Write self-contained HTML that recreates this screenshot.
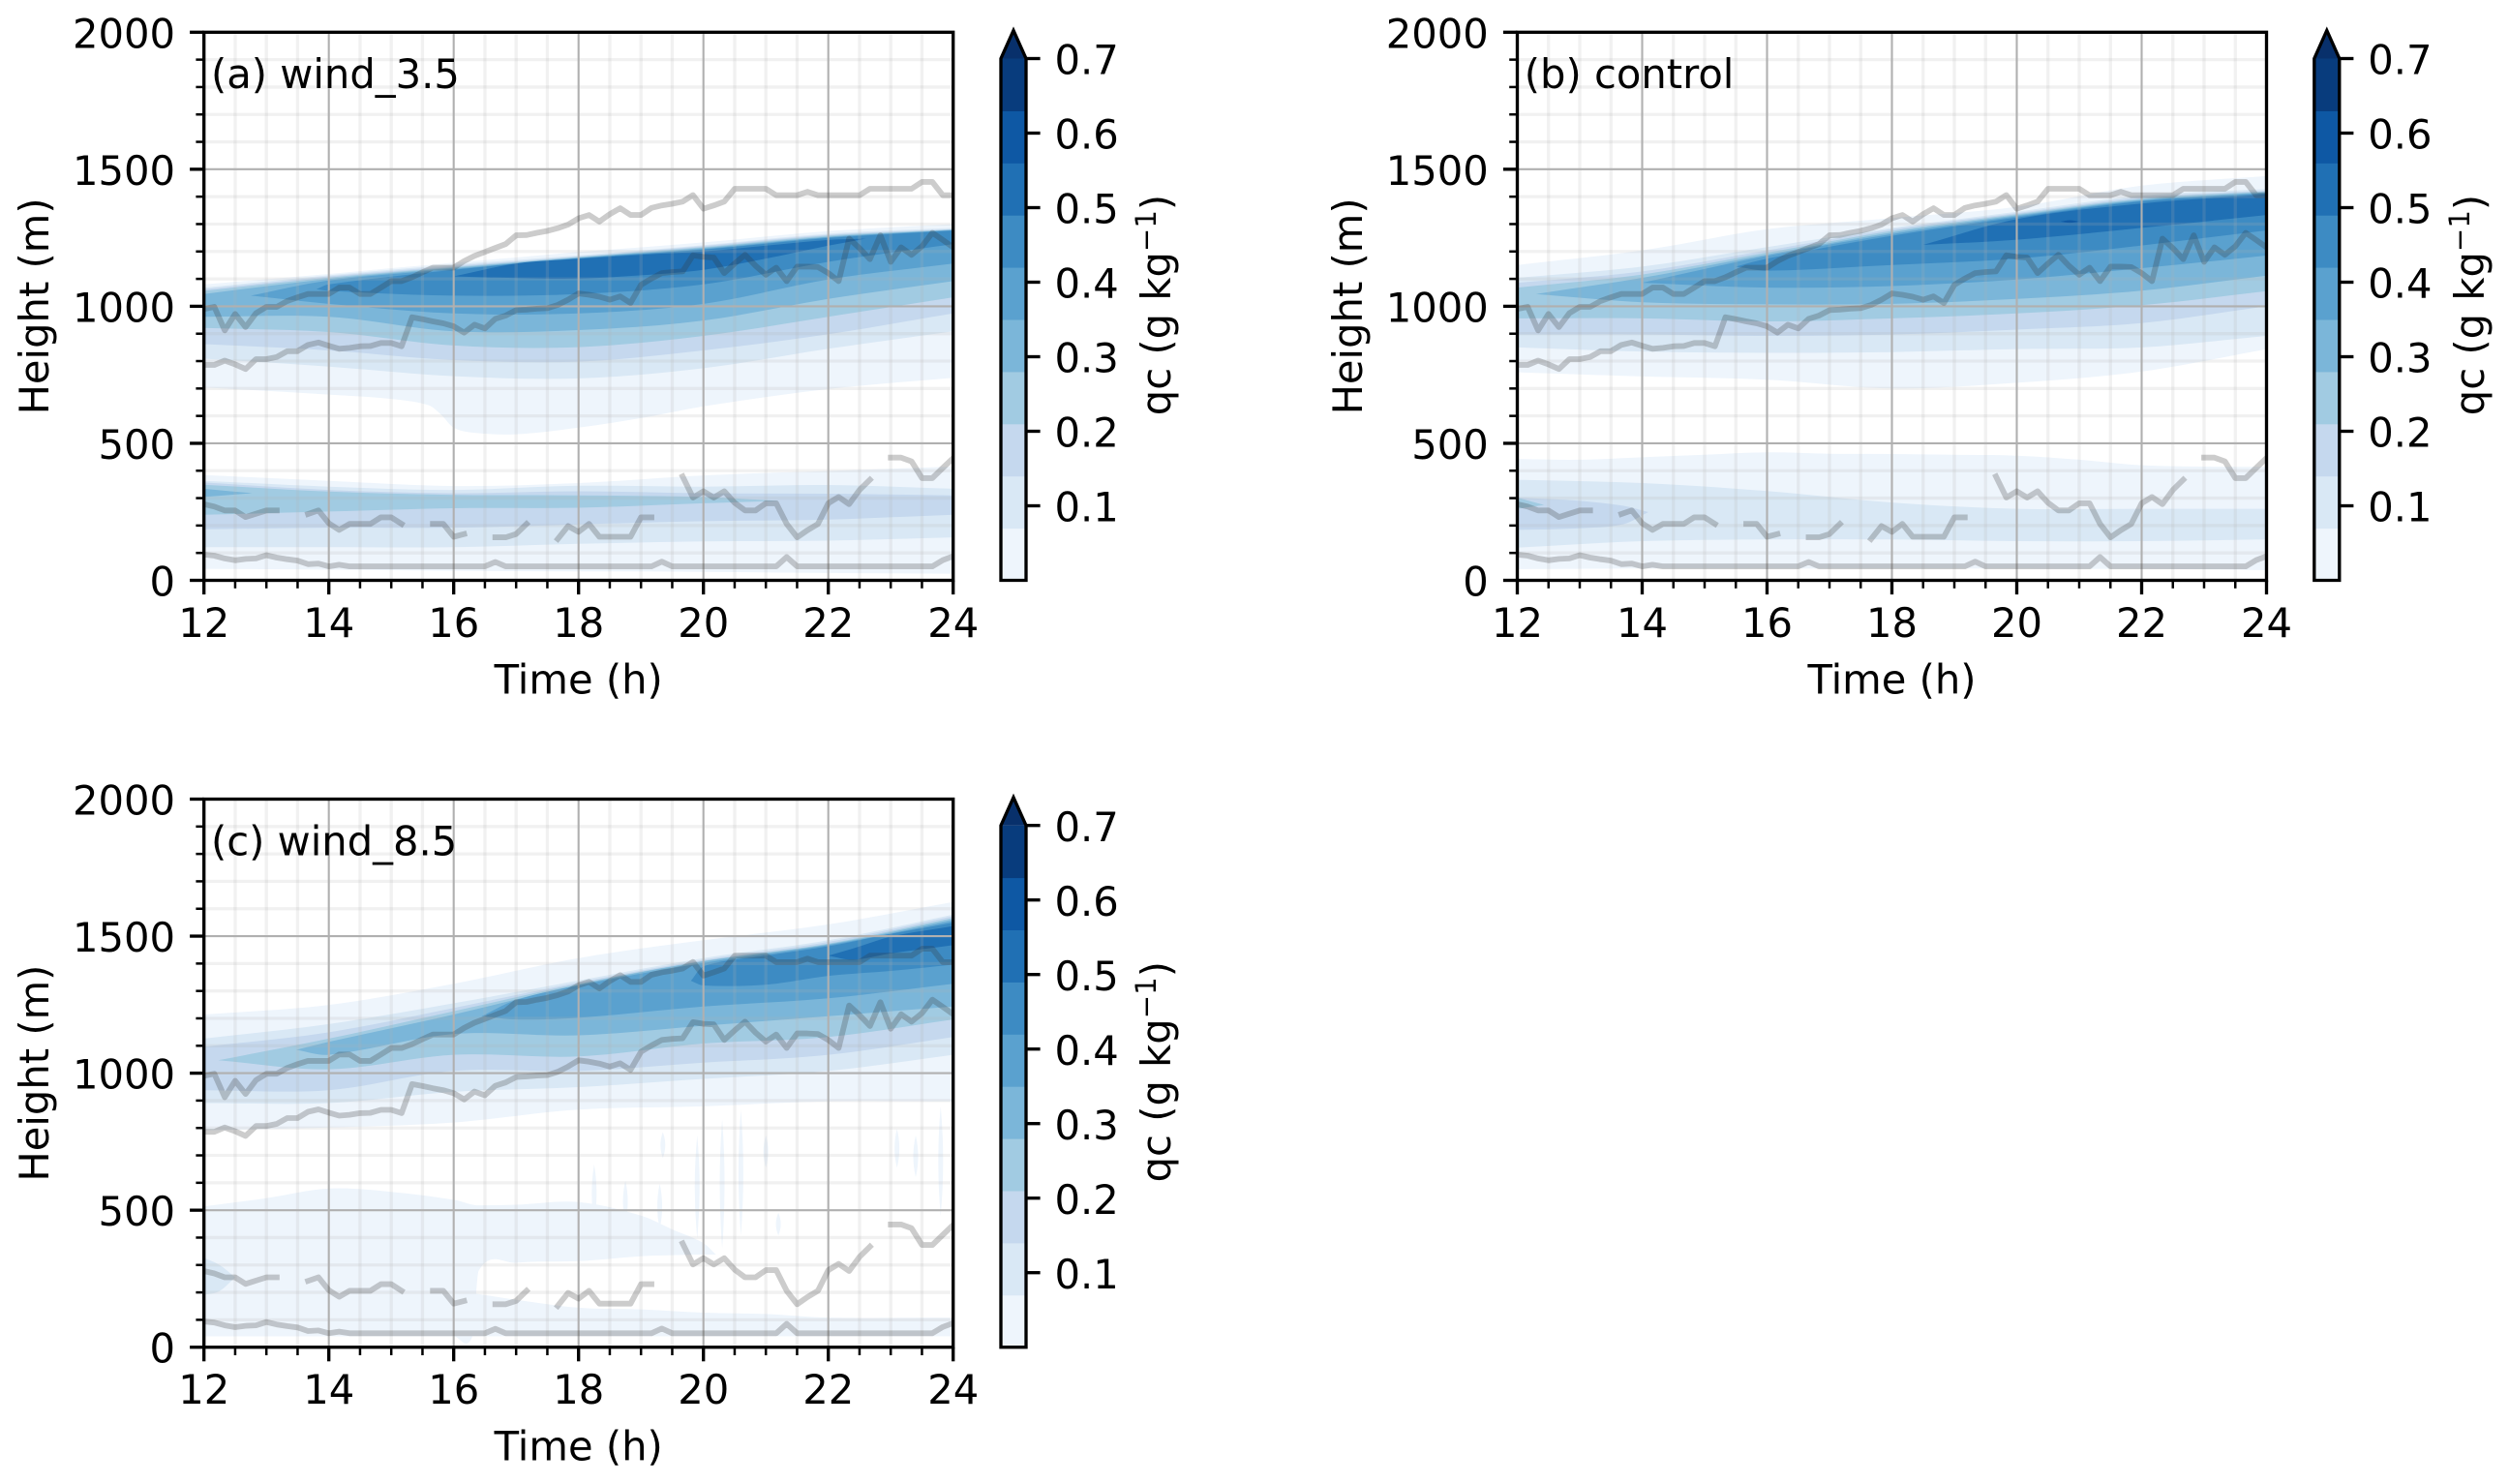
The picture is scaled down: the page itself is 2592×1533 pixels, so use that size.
<!DOCTYPE html>
<html lang="en">
<head>
<meta charset="utf-8">
<title>Cloud water time-height panels</title>
<style>
html,body{margin:0;padding:0;background:#fff;}
svg{display:block;}
text{font-family:"DejaVu Sans","Liberation Sans",sans-serif;font-size:41.67px;fill:#000;}
</style>
</head>
<body>
<svg id="figure" xmlns="http://www.w3.org/2000/svg" width="2592" height="1533" viewBox="0 0 2592 1533">
<rect width="2592" height="1533" fill="#ffffff"/>
<defs><clipPath id="plot-clip"><rect x="210.7" y="33.3" width="774" height="566.2"/></clipPath></defs>
</svg>
<script>
/* ---------- shared axis data ---------- */
const xTickHours=[12,14,16,18,20,22,24];
const xMinorHours=[12.5,13,13.5,14.5,15,15.5,16.5,17,17.5,18.5,19,19.5,20.5,21,21.5,22.5,23,23.5];
const yTickHeights=[0,500,1000,1500,2000];
const yMinorHeights=[100,200,300,400,600,700,800,900,1100,1200,1300,1400,1600,1700,1800,1900];
const colorbarTicks=[0.1,0.2,0.3,0.4,0.5,0.6,0.7];
const colorbarLevels=[0,0.07,0.14,0.21,0.28,0.35,0.42,0.49,0.56,0.63,0.70];
const evenHours=[12,14,16,18,20,22,24];
const hourlyHours=[12,13,14,15,16,17,18,19,20,21,22,23,24];

/* ---------- observed cloud boundaries, one value each 10 min from 12 h ---------- */
const obsStartHour=12;
const obsStepMinutes=10;
const obsTopUpper=[990,998,912,972,924,975,998,998,1019,1033,1045,1045,1045,1068,1068,1045,1045,1068,1092,1092,1106,1124,1141,1141,1141,1165,1184,1198,1213,1227,1259,1260,1268,1275,1285,1298,1321,1333,1309,1336,1358,1333,1333,1359,1368,1374,1382,1406,1356,1368,1382,1429,1429,1429,1429,1405,1405,1405,1418,1405,1405,1405,1405,1405,1429,1429,1429,1429,1429,1454,1454,1405,1405];
const obsBaseUpper=[786,786,802,788,771,807,807,815,836,836,859,868,856,845,848,854,855,866,866,854,960,953,945,938,927,904,933,919,954,966,986,988,991,993,1005,1024,1047,1042,1035,1024,1036,1012,1078,1101,1121,1125,1127,1186,1180,1178,1121,1156,1188,1148,1115,1141,1092,1145,1145,1143,1121,1092,1247,1212,1172,1259,1162,1215,1188,1219,1268,1242,1215];
const obsTopLower=[278,269,255,255,231,243,255,255,null,null,242,255,208,184,206,206,206,230,230,206,null,null,206,206,159,169,null,null,157,157,169,206,null,null,151,198,177,206,159,159,159,159,230,230,null,null,379,302,325,302,325,283,255,255,281,281,206,157,183,206,281,304,278,330,367,null,448,448,434,373,373,410,446];
const obsBaseLower=[94,90,80,73,78,80,92,83,77,72,59,61,51,57,51,51,51,51,51,51,51,51,51,51,51,51,51,51,67,51,51,51,51,51,51,51,51,51,51,51,51,51,51,51,68,51,51,51,51,51,51,51,51,51,51,51,85,51,51,51,51,51,51,51,51,51,51,51,51,51,51,74,88];

/* ---------- panel a contours (height in m of each qc level) ---------- */
const aL1Hours=[12,14,15,15.6,15.8,16,16.3,17,18,19,20,22,24];
const aL1Top=[1080,1118,1139,1151,1155,1159,1165,1178,1198,1215,1233,1274,1300];
const aL1Bottom=[704,678,662,639,604,557,539,533,557,592,635,698,739];
const aL2Top=[1068,1113,1152,1186,1223,1265,1286];
const aL2Bottom=[809,780,745,737,774,845,909];
const aL3Top=[1062,1109,1147,1182,1220,1261,1282];
const aL3Bottom=[862,839,804,798,839,898,974];
const aL4Top=[1056,1105,1143,1180,1216,1258,1280];
const aL4Bottom=[921,906,857,851,892,962,1033];
const aL5Top=[1045,1100,1140,1178,1213,1254,1279];
const aL5Bottom=[962,962,909,913,948,1027,1092];
const aL6Hours=[12.75,14,16,18,20,22,24];
const aL6Top=[1039,1094,1136,1176,1209,1252,1278];
const aL6Bottom=[1039,1009,974,974,1009,1098,1156];
const aL7Hours=[13.8,14,16,18,20,22,24];
const aL7Top=[1062,1080,1133,1175,1207,1249,1276];
const aL7Bottom=[1062,1056,1039,1045,1080,1162,1227];
const aL8Hours=[16,17,18,19,20,21,22,22.6];
const aL8Top=[1109,1156,1173,1188,1200,1221,1242,1247];
const aL8Bottom=[1109,1103,1101,1113,1133,1174,1221,1247];
const aLowL1Top=[384,363,344,355,383,399,415];
const aLowL1Bottom=[42,39,35,33,31,27,24];
const aLowL2Top=[363,342,330,345,342,348,334];
const aLowL2Bottom=[121,121,121,133,142,145,157];
const aLowL3Top=[357,330,318,325,318,316,310];
const aLowL3Bottom=[186,192,192,204,216,222,239];
const aLowL4Hours=[12,14,16,18,20,21.2];
const aLowL4Top=[349,324,312,310,304,290];
const aLowL4Bottom=[239,251,263,265,281,290];
const aLowL5Hours=[12,12.77];
const aLowL5Top=[334,318];
const aLowL5Bottom=[304,318];

/* ---------- panel b contours ---------- */
const bL1Top=[1151,1204,1281,1322,1363,1440,1475];
const bL1Bottom=[759,744,732,700,721,762,843];
const bL2Top=[1104,1145,1216,1286,1345,1404,1428];
const bL2Bottom=[850,835,830,833,844,850,892];
const bL3Top=[1086,1127,1204,1281,1340,1398,1422];
const bL3Bottom=[897,897,892,897,915,939,1000];
const bL4Top=[1068,1116,1196,1275,1336,1393,1419];
const bL4Bottom=[956,956,945,956,974,1004,1055];
const bL5Hours=[12.3,14,16,18,20,22,24];
const bL5Top=[1045,1104,1189,1269,1332,1389,1416];
const bL5Bottom=[1045,1015,1007,1009,1027,1057,1112];
const bL6Hours=[14,16,18,20,22,24];
const bL6Top=[1086,1184,1263,1328,1386,1413];
const bL6Bottom=[1086,1068,1074,1098,1139,1185];
const bL7Hours=[15.5,16,18,20,22,24];
const bL7Top=[1145,1174,1257,1324,1383,1411];
const bL7Bottom=[1145,1130,1151,1174,1222,1277];
const bL8Hours=[18.5,20,22,24];
const bL8Top=[1224,1318,1375,1408];
const bL8Bottom=[1224,1243,1286,1333];
const bL9Hours=[20.7,20.85,21];
const bL9Top=[1309,1314,1309];
const bL9Bottom=[1309,1305,1309];
const bLowL1Top=[443,440,449,458,467,462,461,458,455,440,420,415,414];
const bLowL1Bottom=[41,42,43,43,43,43,43,43,43,42,42,40,37];
const bLowL2Top=[367,355,326,284,261,261,261];
const bLowL2Bottom=[119,143,149,149,143,143,149];
const bLowL3Hours=[12,13,13.7,14.1];
const bLowL3Top=[302,290,272,249];
const bLowL3Bottom=[184,190,205,249];
const bLowL4Hours=[12,12.43];
const bLowL4Top=[302,275];
const bLowL4Bottom=[261,275];

/* ---------- panel c contours ---------- */
const cL1Top=[1214,1249,1326,1420,1485,1543,1625];
const cL1Bottom=[791,802,820,867,879,897,897];
const cL2Top=[1126,1179,1255,1338,1420,1485,1579];
const cL2Bottom=[891,891,932,949,979,1008,1067];
const cL3Top=[1096,1149,1238,1331,1414,1479,1573];
const cL3Bottom=[938,938,1008,1008,1038,1067,1132];
const cL4Hours=[12.23,14,16,18,20,22,24];
const cL4Top=[1047,1126,1226,1326,1410,1473,1567];
const cL4Bottom=[1047,1014,1067,1061,1108,1132,1196];
const cL5Hours=[13.48,14,16,18,20,22,24];
const cL5Top=[1085,1114,1214,1323,1408,1470,1561];
const cL5Bottom=[1085,1067,1143,1138,1173,1208,1243];
const cL6Hours=[16.45,17,18,20,22,24];
const cL6Top=[1208,1267,1320,1402,1467,1555];
const cL6Bottom=[1208,1196,1202,1243,1273,1326];
const cL7Hours=[19.8,20,21,22,23,24];
const cL7Top=[1337,1390,1429,1463,1508,1549];
const cL7Bottom=[1337,1320,1323,1355,1373,1396];
const cL8Hours=[22,22.4,23,24];
const cL8Top=[1429,1455,1498,1537];
const cL8Bottom=[1429,1414,1437,1467];
const cLowL1Hours=[12,13,14,15,16,16.3,16.4,17,18,19,19.5,20,20.2];
const cLowL1Top=[514,544,579,567,538,520,518,520,530,480,430,380,338];
const cLowL1Bottom=[40,40,40,40,40,40,279,308,314,332,336,338,338];
const cNearSurfaceHours=[12,14,16,17,18,19,20,21,22,24];
const cNearSurfaceTop=[200,200,203,173,144,138,126,121,108,108];
const cNearSurfaceBottom=[40,40,40,40,40,40,40,40,40,40];
const cLowL2Hours=[12,12.25,12.5];
const cLowL2Top=[326,300,255];
const cLowL2Bottom=[191,205,255];
const cStreakHours=[18.25,18.75,19.3,19.35,19.9,20.3,20.6,21,21.2,23.1,23.4,23.8];
const cStreakTop=[667,608,597,785,773,832,867,773,491,797,773,879];
const cStreakBottom=[455,455,432,691,397,361,408,655,408,655,620,479];

/* ---------- contour lists: level index selects the band colour ---------- */
const panelAContours=[
[0,aL1Hours,aL1Top,aL1Bottom],[1,evenHours,aL2Top,aL2Bottom],[2,evenHours,aL3Top,aL3Bottom],[3,evenHours,aL4Top,aL4Bottom],[4,evenHours,aL5Top,aL5Bottom],[5,aL6Hours,aL6Top,aL6Bottom],[6,aL7Hours,aL7Top,aL7Bottom],[7,aL8Hours,aL8Top,aL8Bottom],
[0,evenHours,aLowL1Top,aLowL1Bottom],[1,evenHours,aLowL2Top,aLowL2Bottom],[2,evenHours,aLowL3Top,aLowL3Bottom],[3,aLowL4Hours,aLowL4Top,aLowL4Bottom],[4,aLowL5Hours,aLowL5Top,aLowL5Bottom]];
const panelBContours=[
[0,evenHours,bL1Top,bL1Bottom],[1,evenHours,bL2Top,bL2Bottom],[2,evenHours,bL3Top,bL3Bottom],[3,evenHours,bL4Top,bL4Bottom],[4,bL5Hours,bL5Top,bL5Bottom],[5,bL6Hours,bL6Top,bL6Bottom],[6,bL7Hours,bL7Top,bL7Bottom],[7,bL8Hours,bL8Top,bL8Bottom],[8,bL9Hours,bL9Top,bL9Bottom],
[0,hourlyHours,bLowL1Top,bLowL1Bottom],[1,evenHours,bLowL2Top,bLowL2Bottom],[2,bLowL3Hours,bLowL3Top,bLowL3Bottom],[3,bLowL4Hours,bLowL4Top,bLowL4Bottom]];
const panelCContours=[
[0,evenHours,cL1Top,cL1Bottom],[1,evenHours,cL2Top,cL2Bottom],[2,evenHours,cL3Top,cL3Bottom],[3,cL4Hours,cL4Top,cL4Bottom],[4,cL5Hours,cL5Top,cL5Bottom],[5,cL6Hours,cL6Top,cL6Bottom],[6,cL7Hours,cL7Top,cL7Bottom],[7,cL8Hours,cL8Top,cL8Bottom],
[0,cLowL1Hours,cLowL1Top,cLowL1Bottom],[0,cNearSurfaceHours,cNearSurfaceTop,cNearSurfaceBottom],[1,cLowL2Hours,cLowL2Top,cLowL2Bottom]];

/* ---------- drawing ---------- */
const bandColors=['#eef5fc','#d9e8f5','#c5d8ee','#a1cbe2','#7bb6d9','#5aa1cf','#3d8bc3','#2070b4','#0e58a4','#083c7d'];
const NS='http://www.w3.org/2000/svg';
const root=document.getElementById('figure');
const plotLeft=210.7,plotRight=984.7,plotTop=33.3,plotBottom=599.5;
const cbLeft=1034,cbRight=1060;

function xAxis(t){return plotLeft+(t-12)/12*(plotRight-plotLeft);}
function yAxis(h){return plotBottom-h/2000*(plotBottom-plotTop);}
function cbAxis(v){return plotBottom-v/0.7*(plotBottom-60.5);}

function make(parent,tag,attrs){
  const el=document.createElementNS(NS,tag);
  for(const k in attrs){el.setAttribute(k,attrs[k]);}
  parent.appendChild(el);
  return el;
}
function curve(hours,heights,reverse){
  const p=hours.map((t,i)=>[xAxis(t),yAxis(heights[i])]);
  if(reverse){p.reverse();}
  const slope=i=>{
    const a=p[Math.max(0,i-1)],b=p[Math.min(p.length-1,i+1)];
    return (b[1]-a[1])/(b[0]-a[0]);
  };
  let d='';
  for(let i=0;i<p.length-1;i++){
    const dx=(p[i+1][0]-p[i][0])/3;
    d+=' C'+(p[i][0]+dx).toFixed(1)+' '+(p[i][1]+slope(i)*dx).toFixed(1)+' '+(p[i+1][0]-dx).toFixed(1)+' '+(p[i+1][1]-slope(i+1)*dx).toFixed(1)+' '+p[i+1][0].toFixed(1)+' '+p[i+1][1].toFixed(1);
  }
  return {start:p[0],d:d};
}
function contourPath(hours,top,bottom){
  const up=curve(hours,top,false);
  const down=curve(hours,bottom,true);
  return 'M'+up.start[0].toFixed(1)+' '+up.start[1].toFixed(1)+up.d+' L'+down.start[0].toFixed(1)+' '+down.start[1].toFixed(1)+down.d+' Z';
}
function obsPath(values){
  let d='',pen=false;
  values.forEach((h,i)=>{
    if(h===null){pen=false;return;}
    const t=obsStartHour+i*obsStepMinutes/60;
    d+=(pen?' L':' M')+xAxis(t).toFixed(1)+' '+yAxis(h).toFixed(1);
    pen=true;
  });
  return d;
}

function drawPanel(key,label,contours,dx,dy,withStreaks){
  const g=make(root,'g',{transform:'translate('+dx+','+dy+')'});
  
  

  const field=make(g,'g',{'clip-path':'url(#plot-clip)'});
  
  
  contours.forEach(c=>{
    const shape=make(field,'path',{d:contourPath(c[1],c[2],c[3]),fill:bandColors[c[0]]});
    
    
  });
  if(withStreaks){
    cStreakHours.forEach((t,i)=>{
      const xc=xAxis(t),w=5,y1=yAxis(cStreakTop[i]),y2=yAxis(cStreakBottom[i]),ym=(y1+y2)/2;
      const streak=make(field,'path',{d:'M'+xc+' '+y1+' Q'+(xc+w)+' '+ym+' '+xc+' '+y2+' Q'+(xc-w)+' '+ym+' '+xc+' '+y1+' Z',fill:bandColors[0]});
      
      
    });
  }

  const grid=make(g,'g',{});
  
  
  xMinorHours.forEach(t=>{make(grid,'line',{x1:xAxis(t),x2:xAxis(t),y1:plotTop,y2:plotBottom,stroke:'#b0b0b0','stroke-opacity':0.18,'stroke-width':3.3});});
  yMinorHeights.forEach(h=>{make(grid,'line',{x1:plotLeft,x2:plotRight,y1:yAxis(h),y2:yAxis(h),stroke:'#b0b0b0','stroke-opacity':0.18,'stroke-width':3.3});});
  xTickHours.forEach(t=>{make(grid,'line',{x1:xAxis(t),x2:xAxis(t),y1:plotTop,y2:plotBottom,stroke:'#b0b0b0','stroke-width':2.1});});
  yTickHeights.forEach(h=>{make(grid,'line',{x1:plotLeft,x2:plotRight,y1:yAxis(h),y2:yAxis(h),stroke:'#b0b0b0','stroke-width':2.1});});

  const lineStyle={fill:'none',stroke:'#333333','stroke-opacity':0.25,'stroke-width':5.83,'stroke-linejoin':'round','stroke-linecap':'square','clip-path':'url(#plot-clip)'};
  const l1=make(g,'path',Object.assign({d:obsPath(obsTopUpper)},lineStyle));
  
  
  const l2=make(g,'path',Object.assign({d:obsPath(obsBaseUpper)},lineStyle));
  
  
  const l3=make(g,'path',Object.assign({d:obsPath(obsTopLower)},lineStyle));
  
  
  const l4=make(g,'path',Object.assign({d:obsPath(obsBaseLower)},lineStyle));
  
  

  const frame=make(g,'rect',{x:plotLeft,y:plotTop,width:plotRight-plotLeft,height:plotBottom-plotTop,fill:'none',stroke:'#000','stroke-width':3.33});
  
  

  xMinorHours.forEach(t=>{
    const tick=make(g,'line',{x1:xAxis(t),x2:xAxis(t),y1:plotBottom,y2:plotBottom+8.3,stroke:'#000','stroke-width':2.5});
    
    
  });
  yMinorHeights.forEach(h=>{
    const tick=make(g,'line',{x1:plotLeft-8.3,x2:plotLeft,y1:yAxis(h),y2:yAxis(h),stroke:'#000','stroke-width':2.5});
    
    
  });
  xTickHours.forEach(t=>{
    const tick=make(g,'line',{x1:xAxis(t),x2:xAxis(t),y1:plotBottom,y2:plotBottom+14.6,stroke:'#000','stroke-width':3.33});
    
    
    const tl=make(g,'text',{x:xAxis(t),y:plotBottom+58.5,'text-anchor':'middle'});
    tl.textContent=String(t);
    
    
  });
  yTickHeights.forEach(h=>{
    const tick=make(g,'line',{x1:plotLeft-14.6,x2:plotLeft,y1:yAxis(h),y2:yAxis(h),stroke:'#000','stroke-width':3.33});
    
    
    const tl=make(g,'text',{x:181,y:yAxis(h)+16,'text-anchor':'end'});
    tl.textContent=String(h);
    
    
  });

  const xt=make(g,'text',{x:597.7,y:716.5,'text-anchor':'middle'});
  xt.textContent='Time (h)';
  
  
  const yt=make(g,'text',{transform:'translate(50,316.4) rotate(-90)','text-anchor':'middle'});
  yt.textContent='Height (m)';
  
  
  const pl=make(g,'text',{x:218,y:91.2});
  pl.textContent=label;
  
  

  /* colorbar */
  const cb=make(g,'g',{});
  
  
  bandColors.forEach((color,i)=>{
    const yTop=cbAxis(colorbarLevels[i+1]),yBot=cbAxis(colorbarLevels[i]);
    const band=make(cb,'rect',{x:cbLeft,y:yTop,width:cbRight-cbLeft,height:yBot-yTop+0.5,fill:color});
    
    
  });
  const topY=cbAxis(0.7),midX=(cbLeft+cbRight)/2;
  const arrow=make(cb,'path',{d:'M'+cbLeft+' '+topY+' L'+midX+' 31.5 L'+cbRight+' '+topY+' Z',fill:'#08306b'});
  
  
  const outline=make(cb,'path',{d:'M'+cbLeft+' '+plotBottom+' L'+cbLeft+' '+topY+' L'+midX+' 31.5 L'+cbRight+' '+topY+' L'+cbRight+' '+plotBottom+' Z',fill:'none',stroke:'#000','stroke-width':3.33,'stroke-linejoin':'miter'});
  
  
  colorbarTicks.forEach(v=>{
    const tick=make(cb,'line',{x1:cbRight,x2:cbRight+14.6,y1:cbAxis(v),y2:cbAxis(v),stroke:'#000','stroke-width':3.33});
    
    
    const tl=make(cb,'text',{x:1089.5,y:cbAxis(v)+16.2});
    tl.textContent=v.toFixed(1);
    
    
  });
  const cl=make(cb,'text',{transform:'translate(1209,315) rotate(-90)','text-anchor':'middle'});
  
  
  cl.appendChild(document.createTextNode('qc (g kg'));
  const sup=make(cl,'tspan',{'font-size':'29.2px',dy:'-15'});
  sup.textContent='\u22121';
  const tail=make(cl,'tspan',{dy:'15'});
  tail.textContent=')';
}

drawPanel('a','(a) wind_3.5',panelAContours,0,0,false);
drawPanel('b','(b) control',panelBContours,1356.8,0,false);
drawPanel('c','(c) wind_8.5',panelCContours,0,792.2,true);
</script>
</body>
</html>
